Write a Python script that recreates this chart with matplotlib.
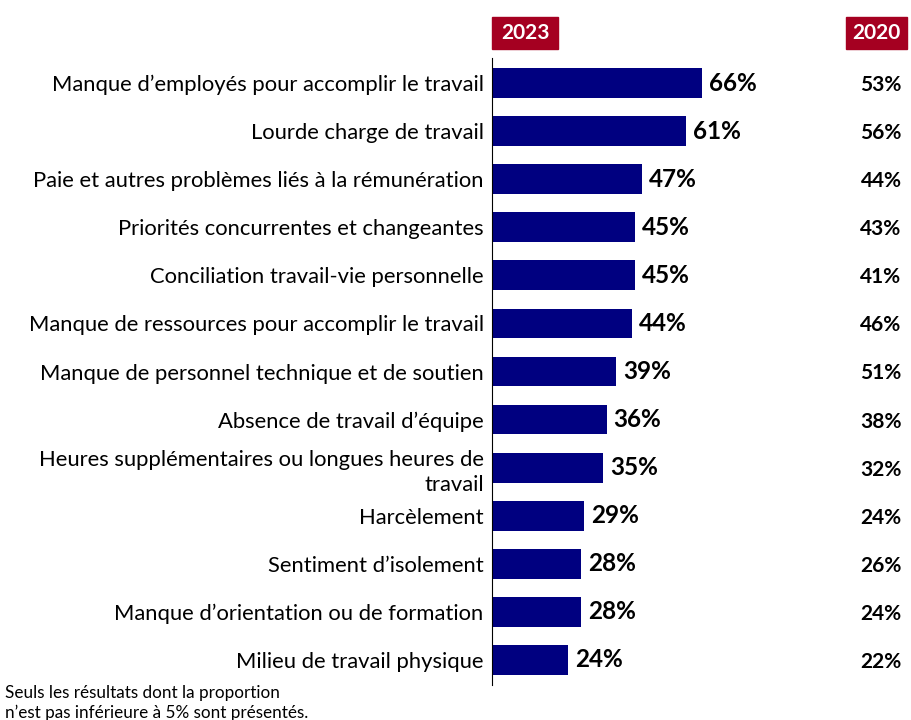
import matplotlib
matplotlib.use("Agg")
import matplotlib.pyplot as plt
import matplotlib.transforms as mtransforms
from matplotlib.patches import Rectangle

plt.rcParams['font.family'] = ['Lato', 'DejaVu Sans']

categories = [
    "Manque d\u2019employés pour accomplir le travail",
    "Lourde charge de travail",
    "Paie et autres problèmes liés à la rémunération",
    "Priorités concurrentes et changeantes",
    "Conciliation travail-vie personnelle",
    "Manque de ressources pour accomplir le travail",
    "Manque de personnel technique et de soutien",
    "Absence de travail d\u2019équipe",
    "Heures supplémentaires ou longues heures de\ntravail",
    "Harcèlement",
    "Sentiment d\u2019isolement",
    "Manque d\u2019orientation ou de formation",
    "Milieu de travail physique",
]
values_2023 = [66, 61, 47, 45, 45, 44, 39, 36, 35, 29, 28, 28, 24]
values_2020 = [53, 56, 44, 43, 41, 46, 51, 38, 32, 24, 26, 24, 22]
headers = ["2023", "2020"]
footnote = "Seuls les résultats dont la proportion\nn\u2019est pas inférieure à 5% sont présentés."

W, H = 912, 720
fig = plt.figure(figsize=(W / 100, H / 100), dpi=100)

ax_left, ax_right, ax_top, ax_bot = 492, 912, 58, 685
ax = fig.add_axes([ax_left / W, 1 - ax_bot / H, (ax_right - ax_left) / W, (ax_bot - ax_top) / H])

bar_color = "#000080"
red = "#A50021"
px_per_pct = 210 / 66.0
ax.set_xlim(0, (ax_right - ax_left) / px_per_pct)
n = len(categories)
ax.set_ylim(n - 0.48, -0.52)

y = list(range(n))
ax.barh(y, values_2023, height=0.62, color=bar_color)

for yi, v in zip(y, values_2023):
    ax.annotate(f"{v}%", (v, yi), xytext=(5, 0), textcoords="offset points",
                ha="left", va="center", fontsize=17.5, fontweight="bold", color="black")

ax.set_yticks(y)
ax.set_yticklabels(categories, fontsize=15.8, ha="right", linespacing=1.32)
ax.tick_params(axis="y", length=0, pad=6)
ax.set_xticks([])
for s in ["top", "right", "bottom"]:
    ax.spines[s].set_visible(False)
ax.spines["left"].set_color("black")
ax.spines["left"].set_linewidth(0.8)

# 2020 column
trans = mtransforms.blended_transform_factory(fig.transFigure, ax.transData)
for yi, v in zip(y, values_2020):
    ax.text(881 / W, yi + 0.04, f"{v}%", transform=trans, ha="center", va="center",
            fontsize=15, fontweight="bold", color="black")

# headers
for (x0, x1), label in zip([(492, 558), (846, 907)], headers):
    fig.patches.append(Rectangle((x0 / W, 1 - 49 / H), (x1 - x0) / W, 32 / H,
                                 transform=fig.transFigure, color=red, zorder=1))
    fig.text((x0 + x1) / 2 / W, 1 - 33 / H, label, ha="center", va="center",
             fontsize=15, fontweight="bold", color="white", zorder=2)

fig.text(5 / W, 1 - 703 / H, footnote, ha="left", va="center", fontsize=12.3,
         color="black", linespacing=1.25)

fig.savefig("out.png", dpi=100)
